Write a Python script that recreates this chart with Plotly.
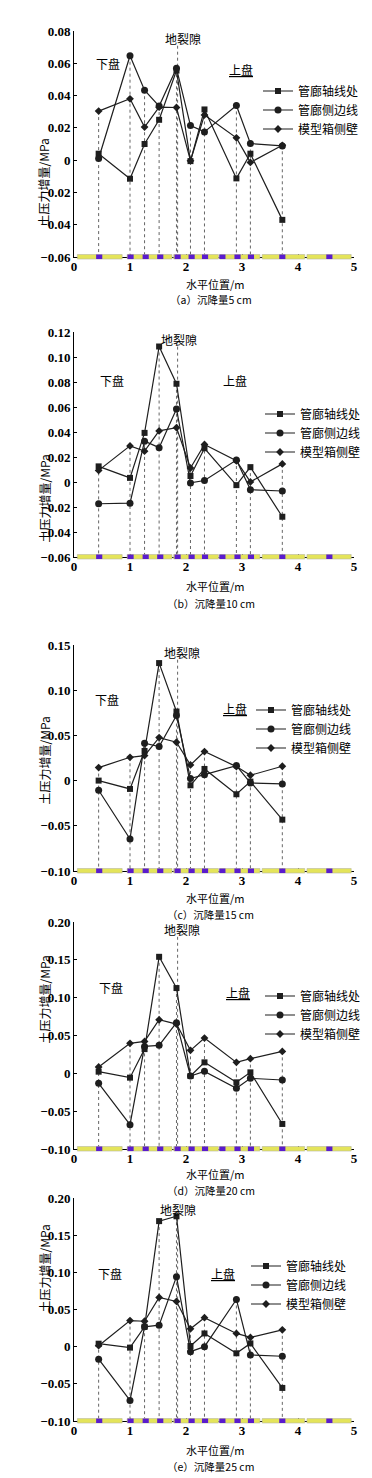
import plotly.graph_objects as go

W, H = 372, 1478

# ---------------- data ----------------
SENSOR_X = [0.44, 1.0, 1.26, 1.52, 1.83, 2.08, 2.33, 2.9, 3.15, 3.72]
FAULT_X = 1.85
NAMES = ["管廊轴线处", "管廊侧边线", "模型箱侧壁"]

# (a) settlement 5 cm
AXIS_A = [0.004, -0.0115, 0.010, 0.025, 0.0555, -0.0006, 0.0314, -0.0113, 0.004, -0.037]
SIDE_A = [0.001, 0.0647, 0.0433, 0.0335, 0.0569, 0.0214, 0.0175, 0.0339, 0.0103, 0.0088]
WALL_A = [0.0304, 0.038, 0.0205, 0.0328, 0.0326, -0.0004, 0.028, 0.0138, -0.0014, 0.0092]
# (b) settlement 10 cm
AXIS_B = [0.0125, 0.0033, 0.0393, 0.1084, 0.0786, 0.0048, 0.027, -0.0025, 0.0119, -0.0278]
SIDE_B = [-0.0174, -0.0169, 0.0327, 0.0275, 0.0584, -0.0007, 0.0012, 0.0176, -0.0061, -0.0072]
WALL_B = [0.0093, 0.0289, 0.0247, 0.0409, 0.0435, 0.0112, 0.030, 0.017, 0.0001, 0.0145]
# (c) settlement 15 cm
AXIS_C = [0.0, -0.0092, 0.0328, 0.130, 0.0764, -0.0052, 0.0129, -0.0151, -0.0011, -0.0432]
SIDE_C = [-0.0107, -0.0646, 0.0413, 0.0376, 0.072, 0.0022, 0.0066, 0.0166, -0.0026, -0.0037]
WALL_C = [0.0144, 0.0258, 0.0277, 0.0476, 0.0424, 0.0173, 0.0321, 0.0155, 0.0059, 0.0159]
# (d) settlement 20 cm
AXIS_D = [0.0022, -0.0057, 0.032, 0.154, 0.1127, -0.0035, 0.0145, -0.0119, 0.0013, -0.0669]
SIDE_D = [-0.0132, -0.0678, 0.0356, 0.037, 0.0669, -0.0035, 0.0026, -0.0198, -0.0066, -0.0088]
WALL_D = [0.0084, 0.0396, 0.0422, 0.0708, 0.0651, 0.0304, 0.0466, 0.0145, 0.0194, 0.029]
# (e) settlement 25 cm
AXIS_E = [0.004, -0.0013, 0.0267, 0.1689, 0.1754, 0.0009, 0.0178, -0.0089, 0.0044, -0.0555]
SIDE_E = [-0.0169, -0.0724, 0.0267, 0.0289, 0.0942, -0.0067, 0.0, 0.0635, -0.0111, -0.0129]
WALL_E = [0.0013, 0.0351, 0.0342, 0.0662, 0.0608, 0.024, 0.039, 0.0178, 0.0124, 0.0226]

CAPTIONS = ["（a）沉降量5 cm", "（b）沉降量10 cm", "（c）沉降量15 cm",
            "（d）沉降量20 cm", "（e）沉降量25 cm"]

Y_RANGES = [(-0.06, 0.08), (-0.06, 0.12), (-0.10, 0.15), (-0.10, 0.20), (-0.10, 0.20)]
Y_TICKS = [
    [-0.06, -0.04, -0.02, 0, 0.02, 0.04, 0.06, 0.08],
    [-0.06, -0.04, -0.02, 0, 0.02, 0.04, 0.06, 0.08, 0.10, 0.12],
    [-0.10, -0.05, 0, 0.05, 0.10, 0.15],
    [-0.10, -0.05, 0, 0.05, 0.10, 0.15, 0.20],
    [-0.10, -0.05, 0, 0.05, 0.10, 0.15, 0.20],
]
Y_TICKTEXT = [
    ["−0.06", "−0.04", "−0.02", "0", "0.02", "0.04", "0.06", "0.08"],
    ["−0.06", "−0.04", "−0.02", "0", "0.02", "0.04", "0.06", "0.08", "0.10", "0.12"],
    ["−0.10", "−0.05", "0", "0.05", "0.10", "0.15"],
    ["−0.10", "−0.05", "0", "0.05", "0.10", "0.15", "0.20"],
    ["−0.10", "−0.05", "0", "0.05", "0.10", "0.15", "0.20"],
]
X_TICKS = [0, 1, 2, 3, 4, 5]

# label positions (data coords)
FOOTWALL_POS = [(0.61, 0.060), (0.68, 0.081), (0.59, 0.0895), (0.66, 0.1137), (0.64, 0.099)]
HANGWALL_POS = [(2.99, 0.056), (2.88, 0.081), (2.87, 0.080), (2.93, 0.107), (2.66, 0.099)]
HANGWALL_UL = [True, False, True, True, True]
FAULT_LABEL_X = [1.95, 1.87, 1.93, 1.93, 1.85]
FAULT_LABEL_Y = [0.965, 0.965, 0.965, 0.965, 0.95]

# model box strip (bottom): segments and sensor blocks
STRIP_START = [0.06, 0.95, 1.78, 2.60, 3.36, 4.16]
STRIP_END = [0.86, 1.75, 2.58, 3.32, 4.12, 4.95]
BLOCK_X = [0.45, 1.01, 1.28, 1.54, 1.85, 2.10, 2.34, 2.65, 2.92, 3.16, 3.72, 4.56]

# ---------------- layout geometry (pixels) ----------------
PLOT_X = (66, 346)
PLOT_Y = [(23, 249), (324, 549), (637, 863), (914, 1141), (1190, 1413)]
XTITLE_Y = [276, 578, 890, 1166, 1442]
CAPTION_Y = [291, 596, 906, 1182, 1458]
YTITLE_Y = [129, 445, 753, 1038, 1307]
LEGEND_Y = [102, 425, 721, 1007, 1277]
LEGEND_X = [250, 252, 243, 252, 238]

PANELS = [
    (AXIS_A, SIDE_A, WALL_A), (AXIS_B, SIDE_B, WALL_B), (AXIS_C, SIDE_C, WALL_C),
    (AXIS_D, SIDE_D, WALL_D), (AXIS_E, SIDE_E, WALL_E),
]

LINE_COLOR = "#1e1e1e"
SYMBOLS = ["square", "circle", "diamond"]
SIZES = [6, 7, 6]
TICK_FONT = dict(family="Liberation Serif", size=13, color="black", weight="bold")
CJK = "Noto Sans CJK SC"

fig = go.Figure()
layout = dict(
    width=W, height=H, margin=dict(l=0, r=0, t=0, b=0, autoexpand=False),
    paper_bgcolor="white", plot_bgcolor="white",
    showlegend=True, annotations=[], shapes=[],
)


def py(p):
    return 1 - p / H


for i, series in enumerate(PANELS):
    k = i + 1
    sfx = "" if k == 1 else str(k)
    xa, ya = "x" + sfx, "y" + sfx
    lg = "legend" if k == 1 else "legend" + str(k)
    ymin, ymax = Y_RANGES[i]

    # dashed vertical drop lines from the highest reading to the base
    vx, vy = [], []
    for j, x in enumerate(SENSOR_X):
        top = max(series[0][j], series[1][j], series[2][j])
        vx += [x, x, None]
        vy += [top, ymin, None]
    fault_top = ymax - 0.065 * (ymax - ymin)
    vx += [FAULT_X, FAULT_X]
    vy += [fault_top, ymin]
    fig.add_trace(go.Scatter(
        x=vx, y=vy, mode="lines", xaxis=xa, yaxis=ya, showlegend=False,
        line=dict(color="#555555", width=0.9, dash="dot"), hoverinfo="skip"))

    for s in range(3):
        fig.add_trace(go.Scatter(
            x=SENSOR_X, y=series[s], mode="lines+markers", name=NAMES[s],
            xaxis=xa, yaxis=ya, legend=lg,
            line=dict(color=LINE_COLOR, width=1.2),
            marker=dict(symbol=SYMBOLS[s], size=SIZES[s], color=LINE_COLOR)))

    y0p, y1p = PLOT_Y[i]
    layout["xaxis" + sfx] = dict(
        domain=[PLOT_X[0] / W, PLOT_X[1] / W], anchor=ya, range=[0, 5],
        tickvals=X_TICKS, ticktext=[str(t) for t in X_TICKS], tickfont=TICK_FONT,
        showline=True, linecolor="black", linewidth=1, ticks="inside", ticklen=3,
        tickcolor="black", showgrid=False, zeroline=False, automargin=False,
        ticklabelstandoff=-3)
    layout["yaxis" + sfx] = dict(
        domain=[py(y1p), py(y0p)], anchor=xa, range=[ymin, ymax],
        tickvals=Y_TICKS[i], ticktext=Y_TICKTEXT[i], tickfont=TICK_FONT,
        showline=True, linecolor="black", linewidth=1, ticks="inside", ticklen=3,
        tickcolor="black", showgrid=False, zeroline=False, automargin=False)

    layout[lg] = dict(
        x=LEGEND_X[i] / W, y=py(LEGEND_Y[i]), xanchor="left", yanchor="middle",
        bgcolor="rgba(0,0,0,0)", borderwidth=0, tracegroupgap=0,
        font=dict(family=CJK, size=12, color="black"))

    # bottom strip (model box) and sensor blocks
    for a, b in zip(STRIP_START, STRIP_END):
        layout["shapes"].append(dict(
            type="rect", xref=xa, yref=ya + " domain", x0=a, x1=b, y0=-0.009, y1=0.011,
            fillcolor="#e4e45a", line=dict(color="#b8b8a0", width=0.6), layer="above"))
    for bx in BLOCK_X:
        layout["shapes"].append(dict(
            type="rect", xref=xa, yref=ya + " domain", x0=bx - 0.055, x1=bx + 0.055,
            y0=-0.009, y1=0.011, fillcolor="#5a1ccc", line=dict(width=0), layer="above"))

    # text labels
    anns = layout["annotations"]
    anns.append(dict(xref=xa, yref=ya, x=FOOTWALL_POS[i][0], y=FOOTWALL_POS[i][1],
                     text="下盘", showarrow=False, font=dict(family=CJK, size=12, color="black")))
    hw = "<u>上盘</u>" if HANGWALL_UL[i] else "上盘"
    anns.append(dict(xref=xa, yref=ya, x=HANGWALL_POS[i][0], y=HANGWALL_POS[i][1],
                     text=hw, showarrow=False, font=dict(family=CJK, size=12, color="black")))
    anns.append(dict(xref=xa, yref=ya + " domain", x=FAULT_LABEL_X[i], y=FAULT_LABEL_Y[i],
                     text="地裂隙", showarrow=False, yanchor="middle",
                     font=dict(family=CJK, size=12, color="black")))
    anns.append(dict(xref="paper", yref="paper", x=25 / W, y=py(YTITLE_Y[i]),
                     text="土压力增量/MPa", textangle=-90, showarrow=False,
                     font=dict(family=CJK, size=12, color="black")))
    anns.append(dict(xref="paper", yref="paper", x=208 / W, y=py(XTITLE_Y[i]),
                     text="水平位置/m", showarrow=False, yanchor="middle",
                     font=dict(family=CJK, size=11, color="black")))
    anns.append(dict(xref="paper", yref="paper", x=203 / W, y=py(CAPTION_Y[i]),
                     text=CAPTIONS[i], showarrow=False, yanchor="middle",
                     font=dict(family=CJK, size=10.5, color="black")))

fig.update_layout(**layout)
fig.write_html("out.html")
